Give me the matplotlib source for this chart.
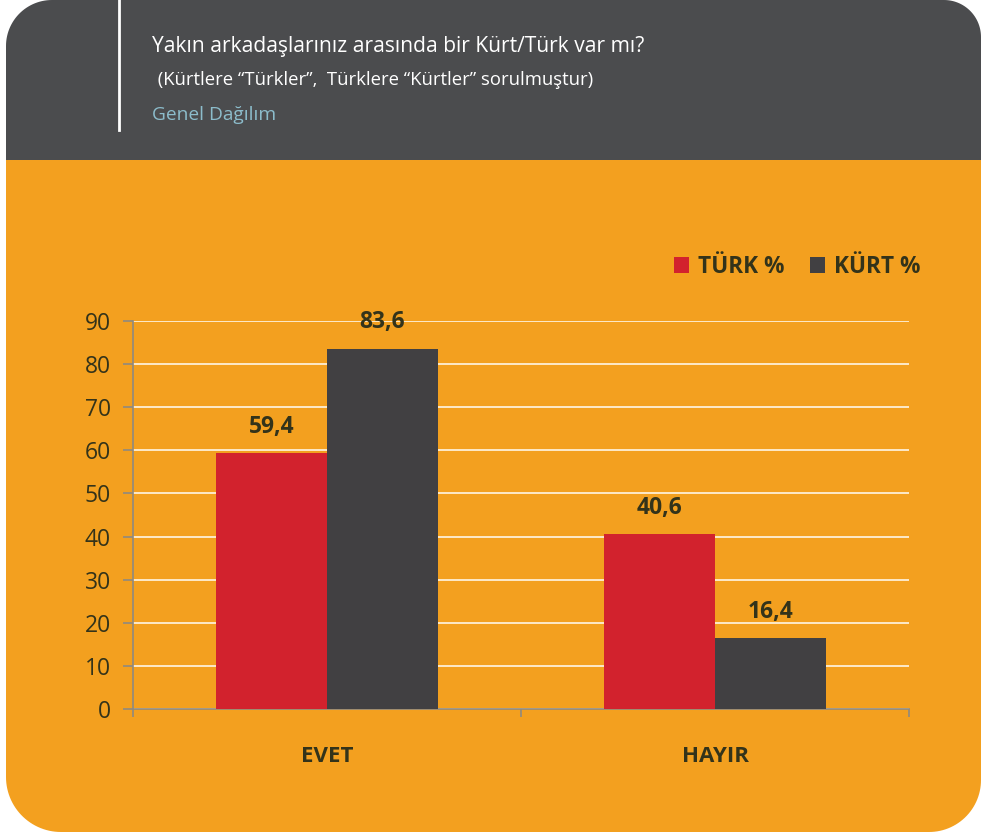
import numpy as np
import matplotlib.pyplot as plt
from matplotlib.patches import Polygon, Patch

plt.rcParams['font.family'] = ['Open Sans', 'DejaVu Sans']

# veriler
kategoriler = ['EVET', 'HAYIR']
turk = [59.4, 40.6]
kurt = [83.6, 16.4]
seriler = ['TÜRK %', 'KÜRT %']
y_ticks = [0, 10, 20, 30, 40, 50, 60, 70, 80, 90]

baslik = 'Yakın arkadaşlarınız arasında bir Kürt/Türk var mı?'
alt_baslik = ' (Kürtlere “Türkler”,  Türklere “Kürtler” sorulmuştur)'
dagilim = 'Genel Dağılım'

TURUNCU = '#f3a01f'
KOYU = '#4b4c4e'
KIRMIZI = '#d2222d'
GRI_BAR = '#414042'
YAZI = '#33331a'

W, H = 981, 833


def yuvarlak_kose(x0, y0, x1, y1, r_tl, r_tr, r_br, r_bl, n=30):
    # piksel koordinatlarinda (y asagi dogru) koseleri yuvarlatilmis dikdortgen
    pts = []
    def yay(cx, cy, r, a0, a1):
        if r == 0:
            pts.append((cx, cy))
            return
        for a in np.linspace(a0, a1, n):
            pts.append((cx + r * np.cos(a), cy + r * np.sin(a)))
    yay(x0 + r_tl, y0 + r_tl, r_tl, np.pi, 1.5 * np.pi)
    yay(x1 - r_tr, y0 + r_tr, r_tr, 1.5 * np.pi, 2 * np.pi)
    yay(x1 - r_br, y1 - r_br, r_br, 0, 0.5 * np.pi)
    yay(x0 + r_bl, y1 - r_bl, r_bl, 0.5 * np.pi, np.pi)
    return np.array(pts)


fig = plt.figure(figsize=(W / 100, H / 100), dpi=100, facecolor='white')

# arka plan paneller
bg = fig.add_axes([0, 0, 1, 1], zorder=0)
bg.set_xlim(0, W)
bg.set_ylim(H, 0)
bg.axis('off')
bg.add_patch(Polygon(yuvarlak_kose(6, 160, 981, 832, 0, 0, 52, 55), closed=True,
                     facecolor=TURUNCU, edgecolor='none'))
bg.add_patch(Polygon(yuvarlak_kose(6, 0, 981, 160, 46, 37, 0, 0), closed=True,
                     facecolor=KOYU, edgecolor='none'))
bg.plot([119, 119], [0, 130], color='white', lw=2)

bg.text(152, 46, baslik, color='white', fontsize=15.1, va='center', ha='left')
bg.text(153, 80, alt_baslik, color='white', fontsize=13.3, va='center', ha='left')
bg.text(152, 115, dagilim, color='#8cbccb', fontsize=13.8, va='center', ha='left')

# grafik
ax = fig.add_axes([133 / W, 1 - 709 / H, 776 / W, 388 / H], zorder=1)
ax.set_facecolor('none')
x = np.arange(len(kategoriler))
genislik = 0.286
b1 = ax.bar(x - genislik / 2, turk, genislik, color=KIRMIZI, zorder=3)
b2 = ax.bar(x + genislik / 2, kurt, genislik, color=GRI_BAR, zorder=3)

for bars in (b1, b2):
    for b in bars:
        ax.annotate(f'{b.get_height():.1f}'.replace('.', ','),
                    (b.get_x() + b.get_width() / 2, b.get_height()),
                    xytext=(0, 19), textcoords='offset points',
                    ha='center', va='center', fontsize=16.5, fontweight='bold', color=YAZI)

ax.set_xlim(-0.5, 1.5)
ax.set_ylim(0, 90)
ax.set_yticks(y_ticks)
ax.set_yticklabels([str(v) for v in y_ticks], fontsize=16.5, color=YAZI)
ax.yaxis.grid(True, color='#fff6e6', lw=1.2, zorder=0)
ax.set_axisbelow(True)

ax.set_xticks([-0.5, 0.5, 1.5])
ax.set_xticklabels(['', '', ''])
ax.set_xticks(x, minor=True)
ax.set_xticklabels(kategoriler, minor=True, fontsize=16, fontweight='bold', color=YAZI)
ax.tick_params(axis='x', which='minor', length=0, pad=27)
ax.tick_params(axis='x', which='major', length=6, width=1.2, color='#8f8a80', direction='out')
ax.tick_params(axis='y', length=7, width=1.2, color='#8f8a80', pad=9)

for s in ('top', 'right'):
    ax.spines[s].set_visible(False)
for s in ('left', 'bottom'):
    ax.spines[s].set_color('#8f8a80')
    ax.spines[s].set_linewidth(1.2)

tutamaclar = [Patch(facecolor=KIRMIZI), Patch(facecolor=GRI_BAR)]
fig.legend(tutamaclar, seriler, loc='center right', bbox_to_anchor=(941 / W, 1 - 267 / H),
           ncol=2, frameon=False, handlelength=0.68, handleheight=0.68,
           handletextpad=0.4, columnspacing=1.1,
           prop={'size': 16.3, 'weight': 'bold'}, labelcolor=YAZI)

fig.savefig('out.png', dpi=100, facecolor='white')
